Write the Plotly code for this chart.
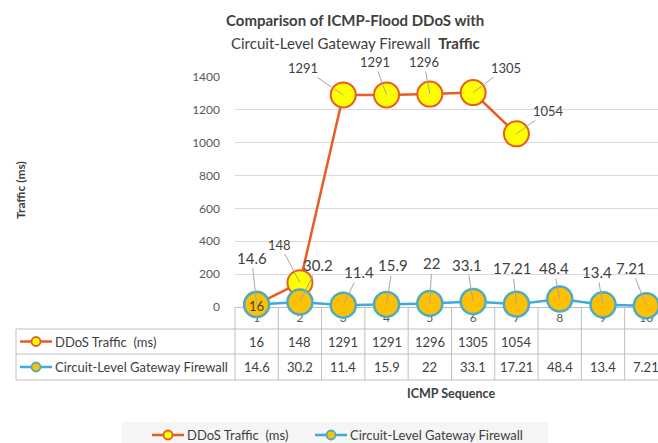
import plotly.graph_objects as go

# ---------------- data ----------------
categories = [1, 2, 3, 4, 5, 6, 7, 8, 9, 10]
category_labels = ["1", "2", "3", "4", "5", "6", "7", "8", "9", "10"]
ddos_values = [16, 148, 1291, 1291, 1296, 1305, 1054, None, None, None]
firewall_values = [14.6, 30.2, 11.4, 15.9, 22, 33.1, 17.21, 48.4, 13.4, 7.21]
ddos_labels = ["16", "148", "1291", "1291", "1296", "1305", "1054", "", "", ""]
firewall_labels = ["14.6", "30.2", "11.4", "15.9", "22", "33.1", "17.21", "48.4", "13.4", "7.21"]
y_ticks = [0, 200, 400, 600, 800, 1000, 1200, 1400]
series_names = ["DDoS Traffic  (ms)", "Circuit-Level Gateway Firewall"]

# ---------------- style ----------------
W, H = 658, 443
FONT = "Lato"
TXT = "#404040"
GRID = "#D9D9D9"
BORDER = "#BFBFBF"
DDOS_LINE = "#EA5B25"
DDOS_FILL = "#FFFF00"
FW_LINE = "#3FAADD"
FW_EDGE = "#4BACC6"
FW_FILL = "#FFC000"
LEADER = "#A6A6A6"

# label offsets (pixels) for data labels
ddos_offsets = [None, (-20, -38), (-40, -27), (-12, -33), (-6, -32), (33, -25), (32, -23), None, None, None]
fw_offsets = [(-5, -47), (18, -37), (16, -33), (6, -39), (2, -40), (-6, -37), (-4, -36), (-6, -31), (-6, -33), (-15, -38)]


def px(x):
    return x / W


def py(y):
    return 1 - y / H


fig = go.Figure()
fig.add_trace(go.Scatter(
    x=categories, y=ddos_values, name=series_names[0], mode="lines+markers",
    line=dict(color=DDOS_LINE, width=2.5),
    marker=dict(size=25, color=DDOS_FILL, line=dict(color=DDOS_LINE, width=2)),
    cliponaxis=False, connectgaps=False, showlegend=False, hoverinfo="skip",
))
fig.add_trace(go.Scatter(
    x=categories, y=firewall_values, name=series_names[1], mode="lines+markers",
    line=dict(color=FW_LINE, width=2.5),
    marker=dict(size=25, color=FW_FILL, line=dict(color=FW_EDGE, width=2.5)),
    cliponaxis=False, showlegend=False, hoverinfo="skip",
))

annotations = []
shapes = []

# data labels
for i, (c, v, t) in enumerate(zip(categories, ddos_values, ddos_labels)):
    if v is None:
        continue
    off = ddos_offsets[i]
    if off is None:
        annotations.append(dict(x=c, y=v, xref="x", yref="y", text=t, showarrow=False,
                                yshift=-2, font=dict(family=FONT, size=13, color=TXT)))
    else:
        annotations.append(dict(x=c, y=v, xref="x", yref="y", text=t, showarrow=True,
                                arrowhead=0, arrowwidth=1, arrowcolor=LEADER, standoff=0,
                                ax=off[0], ay=off[1],
                                font=dict(family=FONT, size=13, color=TXT)))
for i, (c, v, t) in enumerate(zip(categories, firewall_values, firewall_labels)):
    off = fw_offsets[i]
    annotations.append(dict(x=c, y=v, xref="x", yref="y", text=t, showarrow=True,
                            arrowhead=0, arrowwidth=1, arrowcolor=LEADER, standoff=0,
                            ax=off[0], ay=off[1],
                            font=dict(family=FONT, size=15, color=TXT)))


def paper_text(x, y, text, size=13, angle=0, xanchor="center"):
    annotations.append(dict(x=px(x), y=py(y), xref="paper", yref="paper", showarrow=False,
                            xanchor=xanchor, yanchor="middle", text=text, textangle=angle,
                            font=dict(family=FONT, size=size, color=TXT)))


# titles
paper_text(355, 20, "<b>Comparison of ICMP-Flood DDoS with</b>", size=15)
paper_text(355, 43, "Circuit-Level Gateway Firewall  <b>Traffic</b>", size=15)
paper_text(20, 190, "<b>Traffic (ms)</b>", size=12, angle=-90)
paper_text(451, 393, "<b>ICMP Sequence</b>", size=12.5)

# ---------------- data table ----------------
ROW_TOP, ROW_MID, ROW_BOT = 329, 354, 380
AXIS_Y = 307
TABLE_L, PLOT_L = 16, 235
for yy in (ROW_TOP, ROW_MID, ROW_BOT):
    shapes.append(dict(type="line", xref="paper", yref="paper", x0=px(TABLE_L), x1=1,
                       y0=py(yy), y1=py(yy), line=dict(color=BORDER, width=1)))
shapes.append(dict(type="line", xref="paper", yref="paper", x0=px(TABLE_L), x1=px(TABLE_L),
                   y0=py(ROW_TOP), y1=py(ROW_BOT), line=dict(color=BORDER, width=1)))
for c in categories:
    shapes.append(dict(type="line", xref="x", yref="paper", x0=c + 0.5, x1=c + 0.5,
                       y0=py(AXIS_Y), y1=py(ROW_BOT), line=dict(color=BORDER, width=1)))
shapes.append(dict(type="line", xref="paper", yref="paper", x0=px(PLOT_L), x1=px(PLOT_L),
                   y0=py(AXIS_Y), y1=py(ROW_BOT), line=dict(color=BORDER, width=1)))

row_y = [(ROW_TOP + ROW_MID) / 2, (ROW_MID + ROW_BOT) / 2]
for r, vals in enumerate([ddos_values, firewall_values]):
    for c, v in zip(categories, vals):
        if v is None:
            continue
        annotations.append(dict(x=c, y=py(row_y[r]), xref="x", yref="paper", showarrow=False,
                                yanchor="middle", text=f"{v:g}",
                                font=dict(family=FONT, size=13, color=TXT)))


def legend_key(x0, yc, line_col, fill, edge, name, length=32):
    shapes.append(dict(type="line", xref="paper", yref="paper", x0=px(x0), x1=px(x0 + length),
                       y0=py(yc), y1=py(yc), line=dict(color=line_col, width=2.5)))
    mx = x0 + length / 2
    shapes.append(dict(type="circle", xref="paper", yref="paper",
                       x0=px(mx - 4.5), x1=px(mx + 4.5), y0=py(yc - 4.5), y1=py(yc + 4.5),
                       fillcolor=fill, line=dict(color=edge, width=1.8)))
    paper_text(x0 + length + 1, yc, name, size=13, xanchor="left")


legend_key(20, row_y[0], DDOS_LINE, DDOS_FILL, DDOS_LINE, series_names[0])
legend_key(20, row_y[1], FW_LINE, FW_FILL, FW_EDGE, series_names[1])

# bottom legend band
shapes.append(dict(type="rect", xref="paper", yref="paper", x0=px(122), x1=px(548),
                   y0=py(443), y1=py(422), fillcolor="#F5F5F5", line=dict(width=0), layer="below"))
legend_key(152, 435, DDOS_LINE, DDOS_FILL, DDOS_LINE, series_names[0])
legend_key(315, 435, FW_LINE, FW_FILL, FW_EDGE, series_names[1])

fig.update_layout(
    width=W, height=H,
    margin=dict(l=0, r=0, t=0, b=0, pad=0),
    paper_bgcolor="white", plot_bgcolor="white",
    font=dict(family=FONT, size=12, color=TXT),
    xaxis=dict(domain=[px(PLOT_L), 1], range=[0.5, 10.27], tickmode="array",
               tickvals=categories, ticktext=category_labels, showgrid=False,
               showline=True, linecolor=BORDER, linewidth=1, ticks="",
               tickfont=dict(family=FONT, size=12, color="#595959"), automargin=False,
               layer="below traces", zeroline=False, fixedrange=True),
    yaxis=dict(domain=[py(AXIS_Y), py(77)], range=[0, 1400], tickmode="array",
               tickvals=y_ticks, showgrid=True, gridcolor=GRID, gridwidth=1, automargin=False,
               zeroline=False, showline=False, ticks="", ticklabelstandoff=14,
               tickfont=dict(family=FONT, size=12, color="#595959"), fixedrange=True),
    annotations=annotations,
    shapes=shapes,
    showlegend=False,
)

fig.write_html("out.html")
